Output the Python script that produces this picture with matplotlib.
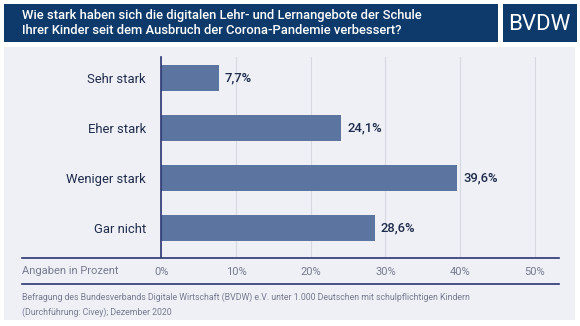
import matplotlib.pyplot as plt
from matplotlib.patches import Rectangle
from matplotlib.lines import Line2D

plt.rcParams['font.family'] = ['Roboto', 'DejaVu Sans']

categories = ['Sehr stark', 'Eher stark', 'Weniger stark', 'Gar nicht']
values = [7.7, 24.1, 39.6, 28.6]
ticks = [0, 10, 20, 30, 40, 50]
tick_labels = ['0%', '10%', '20%', '30%', '40%', '50%']

title = ('Wie stark haben sich die digitalen Lehr- und Lernangebote der Schule\n'
         'Ihrer Kinder seit dem Ausbruch der Corona-Pandemie verbessert?')
note = ('Befragung des Bundesverbands Digitale Wirtschaft (BVDW) e.V. unter 1.000 Deutschen mit schulpflichtigen Kindern\n'
        '(Durchführung: Civey); Dezember 2020')

W, H = 580, 326
navy = '#0d3a6b'
bar_col = '#5b74a0'
line_col = '#2b3570'
grey = '#767a8e'

fig = plt.figure(figsize=(W / 100, H / 100), dpi=100)
fig.patch.set_facecolor('white')

def fx(x):
    return x / W

def fy(y):
    return 1 - y / H

# panels
fig.patches.append(Rectangle((fx(4), fy(320)), fx(571), 273 / H, transform=fig.transFigure,
                             facecolor='#eff0f6', edgecolor='none', zorder=0))
fig.patches.append(Rectangle((fx(4), fy(42)), fx(494), 38 / H, transform=fig.transFigure,
                             facecolor=navy, edgecolor='none', zorder=1))
fig.patches.append(Rectangle((fx(503), fy(42)), fx(74), 38 / H, transform=fig.transFigure,
                             facecolor=navy, edgecolor='none', zorder=1))
fig.text(fx(22), fy(22.5), title, color='white', fontsize=9.4, fontweight='medium',
         va='center', ha='left', linespacing=1.2)
fig.text(fx(539), fy(30), 'BVDW', color='white', fontsize=16, fontweight='normal',
         va='baseline', ha='center')

ax = fig.add_axes([fx(161.3), fy(257), fx(561 - 161.3), 200 / H])
ax.set_zorder(5)
ax.set_facecolor('none')
pos = list(range(len(categories)))
ax.barh(pos, values, height=0.52, color=bar_col, zorder=3)
for p, v in zip(pos, values):
    ax.text(v + 0.8, p, f'{v:.1f}%'.replace('.', ','), va='center', ha='left',
            fontsize=9.4, fontweight='medium', color='#1e2b4a')
ax.set_xlim(0, 53.5)
ax.set_ylim(3.58, -0.42)
ax.set_yticks(pos)
ax.set_yticklabels(categories, fontsize=9.4, color='#1e2b4a')
ax.tick_params(axis='y', length=0, pad=11)
ax.set_xticks(ticks)
ax.set_xticklabels(tick_labels, fontsize=8, color=grey)
ax.tick_params(axis='x', length=0, pad=7)
ax.grid(axis='x', color='#d6d8e2', linewidth=0.8, zorder=0)
for s in ['top', 'right', 'bottom']:
    ax.spines[s].set_visible(False)
ax.spines['left'].set_color(line_col)
ax.spines['left'].set_linewidth(1.2)
ax.spines['left'].set_zorder(4)

fig.lines.append(Line2D([fx(22), fx(559)], [fy(257.5), fy(257.5)], transform=fig.transFigure,
                        color=line_col, linewidth=1.2, zorder=6))
fig.lines.append(Line2D([fx(22), fx(559)], [fy(284), fy(284)], transform=fig.transFigure,
                        color=line_col, linewidth=1.2, zorder=6))
fig.text(fx(22), fy(270.5), 'Angaben in Prozent', fontsize=8, color=grey,
         va='center', ha='left')
fig.text(fx(22), fy(304.5), note, fontsize=6.3, color=grey,
         va='center', ha='left', linespacing=1.75)

fig.savefig('out.png', dpi=100, facecolor='white')
